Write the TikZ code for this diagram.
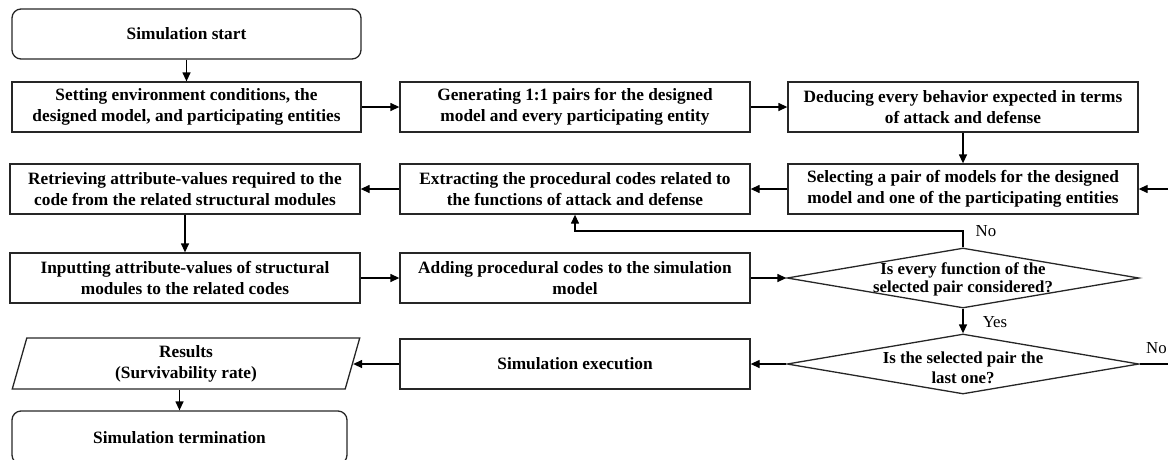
\documentclass[tikz,border=0pt]{standalone}
\usepackage{fontspec}
\setmainfont{Liberation Serif}
\usetikzlibrary{shapes.geometric,arrows.meta}
\begin{document}
\begin{tikzpicture}[x=1pt,y=-1pt,
  base/.style={draw=black!85, line width=1.3pt, inner sep=0pt, align=center,
    font=\fontsize{17.3}{21}\selectfont\bfseries},
  proc/.style={base, rectangle, minimum width=350pt, minimum height=50pt},
  term/.style={base, rectangle, rounded corners=9pt, minimum height=50pt},
  dia/.style={draw=black!85, line width=1.3pt, diamond, inner sep=0pt, minimum width=352pt, minimum height=60pt},
  diatext/.style={inner sep=0pt, align=center, font=\fontsize{16.8}{18}\selectfont\bfseries},
  lbl/.style={inner sep=0pt, font=\fontsize{16.8}{18}\selectfont},
  arr/.style={line width=1.3pt, -{Triangle[length=9pt,width=8pt]}},
  ln/.style={line width=1.3pt}]
\useasboundingbox (0,0) rectangle (1168,459);
\clip (0,0) rectangle (1168,459);

\node[term, minimum width=349pt] (start) at (186.5,34) {Simulation start};
\node[proc, minimum width=349pt] (set) at (186.5,107) {Setting environment conditions, the\\designed model, and participating entities};
\node[proc] (gen) at (575,107) {Generating 1:1 pairs for the designed\\model and every participating entity};
\node[proc] (ded) at (963,107) {Deducing every behavior expected in terms\\of attack and defense};
\node[proc] (ret) at (185,189) {Retrieving attribute-values required to the\\code from the related structural modules};
\node[proc] (ext) at (575,189) {Extracting the procedural codes related to\\the functions of attack and defense};
\node[proc] (sel) at (963,189) {Selecting a pair of models for the designed\\model and one of the participating entities};
\node[proc] (inp) at (185,278) {Inputting attribute-values of structural\\modules to the related codes};
\node[proc] (add) at (575,278) {Adding procedural codes to the simulation\\model};
\node[dia] (d1) at (963,278) {};
\node[diatext] (d1t) at (963,279.5) {Is every function of the\\selected pair considered?};
\node[proc] (exe) at (575,364) {Simulation execution};
\node[dia] (d2) at (963,364) {};
\node[diatext, font=\fontsize{16.8}{20}\selectfont\bfseries] (d2t) at (963,368) {Is the selected pair the\\last one?};
\node[base, trapezium, trapezium left angle=80, trapezium right angle=100, trapezium stretches=true,
  minimum width=348pt, minimum height=51pt] (res) at (186,363.5) {Results\\(Survivability rate)};
\node[term, minimum width=335pt, minimum height=53pt] (end) at (179.5,437.5) {Simulation termination};

\node[lbl] (no1) at (986,231) {No};
\node[lbl] (yes) at (995,322) {Yes};
\node[lbl] (no2) at (1156.5,348) {No};

\coordinate (nl) at (963,231);
\coordinate (rr) at (1175,364);

\draw[arr] (start) -- (set);
\draw[arr] (set) -- (gen);
\draw[arr] (gen) -- (ded);
\draw[arr] (ded) -- (sel);
\draw[arr] (sel) -- (ext);
\draw[arr] (ext) -- (ret);
\draw[arr] (ret) -- (inp);
\draw[arr] (inp) -- (add);
\draw[arr] (add) -- (d1);
\draw[arr] (d1) -- (d2);
\draw[arr] (d1.north) -- (nl) -| (ext.south);
\draw[arr] (d2) -- (exe);
\draw[arr] (exe.west) -- (res.east |- exe.west);
\draw[arr] (res.south -| end.north) -- (end.north);
\draw[arr] (d2.east) -- (rr) |- (sel.east);
\end{tikzpicture}
\end{document}
